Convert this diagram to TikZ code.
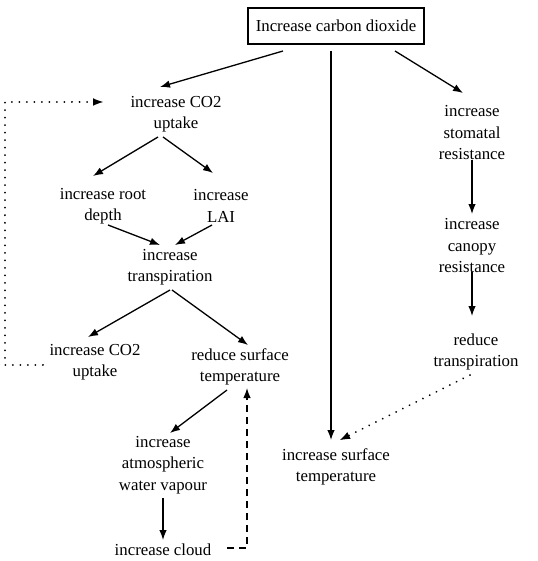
\documentclass[tikz,border=0pt]{standalone}
\usepackage{fontspec}
\setmainfont{Liberation Serif}
\usetikzlibrary{arrows.meta}
\begin{document}
\begin{tikzpicture}[x=1pt,y=-1pt,
  txt/.style={align=center,inner sep=0pt,font=\fontsize{16.8}{21.5}\selectfont},
  boxnode/.style={draw,line width=1.4pt,minimum width=176pt,minimum height=36pt,inner sep=0pt,font=\fontsize{16.8}{21.5}\selectfont},
  arr/.style={line width=1.3pt,-{Latex[length=10pt,width=7.5pt]}},
  dotarr/.style={line width=2pt,dash pattern=on 0.01pt off 7.5pt,line cap=round,-{Latex[length=10pt,width=7.5pt,line width=0pt]}},
  dasharr/.style={line width=1.3pt,dash pattern=on 7pt off 5pt,-{Latex[length=10pt,width=7.5pt]}}]
\useasboundingbox (0,0) rectangle (537,561);
\node[boxnode] (top) at (336,26) {Increase carbon dioxide};
\node[txt] (co2a) at (176,114) {increase CO2\\uptake};
\node[txt] (root) at (103,206) {increase root\\depth};
\node[txt] (lai) at (221,206) {increase\\LAI};
\node[txt] (trans) at (170,267) {increase\\transpiration};
\node[txt] (co2b) at (95,362) {increase CO2\\uptake};
\node[txt] (rst) at (240,367) {reduce surface\\temperature};
\node[txt] (atm) at (163,465) {increase\\atmospheric\\water vapour};
\node[txt] (cloud) at (163,550) {increase cloud};
\node[txt] (surf) at (336,467) {increase surface\\temperature};
\node[txt] (stom) at (472,133) {increase\\stomatal\\resistance};
\node[txt] (can) at (472,246) {increase\\canopy\\resistance};
\node[txt] (red) at (476,352) {reduce\\transpiration};
\coordinate (dl1) at (5,365);
\coordinate (dl2) at (5,102);
\coordinate (dc) at (247,548);
% connectors
\draw[arr] ([shift={(-53,25)}]top.center) -- ([shift={(-16,-27)}]co2a.center);
\draw[arr] ([shift={(-5,25)}]top.center) -- ([shift={(-5,-27)}]surf.center);
\draw[arr] ([shift={(59,25)}]top.center) -- ([shift={(-9,-40)}]stom.center);
\draw[arr] ([shift={(-18,23)}]co2a.center) -- ([shift={(-10,-30)}]root.center);
\draw[arr] ([shift={(-13,23)}]co2a.center) -- ([shift={(-8,-33)}]lai.center);
\draw[arr] ([shift={(5,19)}]root.center) -- ([shift={(-10,-22)}]trans.center);
\draw[arr] ([shift={(-9,19)}]lai.center) -- ([shift={(5,-22)}]trans.center);
\draw[arr] ([shift={(0,23)}]trans.center) -- ([shift={(-7,-25)}]co2b.center);
\draw[arr] ([shift={(2,23)}]trans.center) -- ([shift={(8,-22)}]rst.center);
\draw[arr] ([shift={(-13,23)}]rst.center) -- ([shift={(7,-32)}]atm.center);
\draw[arr] ([shift={(0,33)}]atm.center) -- ([shift={(0,-10)}]cloud.center);
\draw[dasharr] ([shift={(64,-2)}]cloud.center) -- (dc) -- ([shift={(7,21)}]rst.center);
\draw[dotarr] ([shift={(-52,3)}]co2b.center) -- (dl1) -- (dl2) -- ([shift={(-73,-12)}]co2a.center);
\draw[arr] ([shift={(0,27)}]stom.center) -- ([shift={(0,-32)}]can.center);
\draw[arr] ([shift={(0,26)}]can.center) -- ([shift={(-4,-36)}]red.center);
\draw[dotarr] ([shift={(-6,23)}]red.center) -- ([shift={(4,-27)}]surf.center);
\end{tikzpicture}
\end{document}
